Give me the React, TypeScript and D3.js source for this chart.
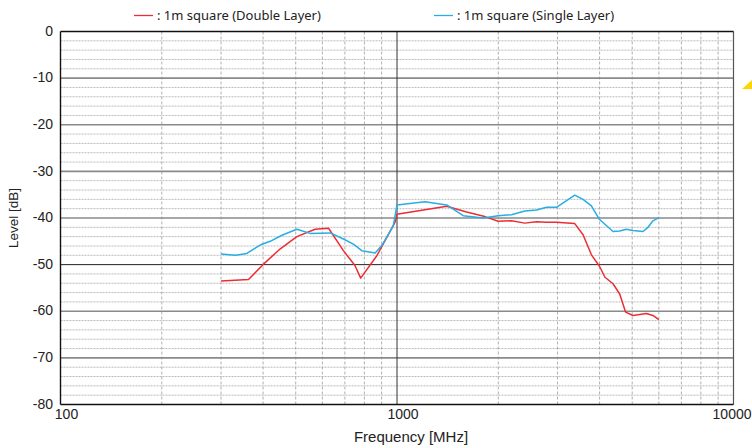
import React from 'react'
import * as d3 from 'd3'

// frequency [MHz], level [dB]
const doubleFreq = [300, 362, 401, 450, 504, 571, 626, 693, 750, 780, 871, 987, 1000, 1405, 1610, 1824, 1998, 2190, 2398, 2598, 2782, 2978, 3375, 3572, 3782, 3993, 4150, 4385, 4590, 4780, 5027, 5508, 5762, 6000]
const doubleLevel = [-53.5, -53.2, -49.9, -46.6, -44.0, -42.4, -42.2, -47.0, -50.2, -52.9, -48.1, -40.9, -39.2, -37.5, -38.7, -39.7, -40.7, -40.6, -41.1, -40.8, -40.9, -40.9, -41.2, -43.6, -47.9, -50.3, -52.7, -54.1, -56.3, -60.2, -60.9, -60.5, -60.9, -61.8]

const singleFreq = [300, 331, 358, 392, 420, 455, 504, 552, 633, 693, 742, 786, 861, 901, 975, 1000, 1211, 1405, 1573, 1804, 1998, 2190, 2398, 2598, 2782, 2978, 3375, 3572, 3782, 3985, 4385, 4590, 4803, 5027, 5383, 5570, 5762, 6000]
const singleLevel = [-47.7, -48.0, -47.6, -45.8, -45.0, -43.7, -42.4, -43.3, -43.2, -44.5, -45.6, -47.0, -47.5, -45.9, -41.7, -37.2, -36.5, -37.2, -39.5, -40.0, -39.5, -39.3, -38.5, -38.3, -37.7, -37.7, -35.1, -36.0, -37.4, -40.2, -42.9, -42.8, -42.4, -42.7, -42.9, -42.0, -40.6, -39.9]

const yTicks = [0, -10, -20, -30, -40, -50, -60, -70, -80]
const xTickLabels = ['100', '1000', '10000']
const legendLabels = [': 1m square (Double Layer)', ': 1m square (Single Layer)']

const RED = '#ec2d33'
const BLUE = '#27aee3'

export default function App() {
  const width = 752
  const height = 448
  const left = 60.5, right = 733.5, top = 31.5, bottom = 404.5

  const x = d3.scaleLog().domain([100, 10000]).range([left, right])
  const y = d3.scaleLinear().domain([-80, 0]).range([bottom, top])

  const minorX: number[] = []
  for (const dec of [100, 1000]) {
    for (let k = 2; k <= 9; k++) minorX.push(dec * k)
  }
  const minorY: number[] = []
  for (let v = -78; v < 0; v += 2) if (v % 10 !== 0) minorY.push(v)

  const line = d3.line<[number, number]>()
    .x(d => x(d[0]))
    .y(d => y(d[1]))

  const dbl = doubleFreq.map((f, i) => [f, doubleLevel[i]] as [number, number])
  const sgl = singleFreq.map((f, i) => [f, singleLevel[i]] as [number, number])

  const font = '"Liberation Sans", Arial, sans-serif'

  return (
    <svg width={width} height={height} style={{ position: 'absolute', left: 0, top: 0, background: '#fff' }}>
      {/* minor horizontal grid */}
      {minorY.map(v => (
        <line key={'my' + v} x1={left} x2={right} y1={y(v)} y2={y(v)} stroke="#a8a8a8" strokeWidth={0.8} strokeDasharray="2,1" />
      ))}
      {/* minor vertical grid */}
      {minorX.map(f => (
        <line key={'mx' + f} x1={x(f)} x2={x(f)} y1={top} y2={bottom} stroke="#9a9a9a" strokeWidth={0.8} strokeDasharray="3,2" />
      ))}
      {/* major horizontal grid */}
      {yTicks.slice(1, -1).map(v => (
        <line key={'My' + v} x1={left} x2={right} y1={y(v)} y2={y(v)}
          stroke={v === -50 ? '#222' : '#8a8a8a'} strokeWidth={v === -50 ? 1 : 1.6} />
      ))}
      {/* decade line */}
      <line x1={x(1000)} x2={x(1000)} y1={top} y2={bottom} stroke="#333" strokeWidth={1} />
      {/* frame */}
      <line x1={right} x2={right} y1={top} y2={bottom} stroke="#555" strokeWidth={1.2} />
      <line x1={left} x2={right} y1={top} y2={top} stroke="#111" strokeWidth={1.4} />
      <line x1={left} x2={right} y1={bottom} y2={bottom} stroke="#111" strokeWidth={1.6} />
      <line x1={left} x2={left} y1={top} y2={bottom} stroke="#111" strokeWidth={1.4} />

      {/* series */}
      <path d={line(dbl) || ''} fill="none" stroke={RED} strokeWidth={1.5} strokeLinejoin="round" />
      <path d={line(sgl) || ''} fill="none" stroke={BLUE} strokeWidth={1.5} strokeLinejoin="round" />

      {/* y ticks */}
      {yTicks.map(v => (
        <text key={'yt' + v} x={53} y={y(v)} dy="0.3em" textAnchor="end" fontFamily={font} fontSize={14} fill="#222">{v}</text>
      ))}
      {/* x ticks */}
      {xTickLabels.map((t, i) => (
        <text key={'xt' + t} x={i === 2 ? 751.5 : x(+t) + 6} y={419} textAnchor={i === 2 ? 'end' : 'middle'}
          fontFamily={font} fontSize={14} fill="#222">{t}</text>
      ))}
      <text x={411} y={442} textAnchor="middle" fontFamily={font} fontSize={15} fill="#222">Frequency [MHz]</text>
      <text transform={`translate(18,${(top + bottom) / 2}) rotate(-90)`} textAnchor="middle" fontFamily={font} fontSize={13.5} fill="#222">Level [dB]</text>

      {/* legend */}
      <line x1={134} x2={153} y1={15.5} y2={15.5} stroke={RED} strokeWidth={1.3} />
      <text x={157} y={15.5} dy="0.35em" fontFamily='"Noto Sans", sans-serif' fontSize={13} fill="#222">{legendLabels[0]}</text>
      <line x1={434} x2={453} y1={15.5} y2={15.5} stroke={BLUE} strokeWidth={1.3} />
      <text x={457} y={15.5} dy="0.35em" fontFamily='"Noto Sans", sans-serif' fontSize={13} fill="#222">{legendLabels[1]}</text>

      {/* decorative corner mark */}
      <path d="M742,89 L752,80 L752,89 Z" fill="#ffd400" />
    </svg>
  )
}
